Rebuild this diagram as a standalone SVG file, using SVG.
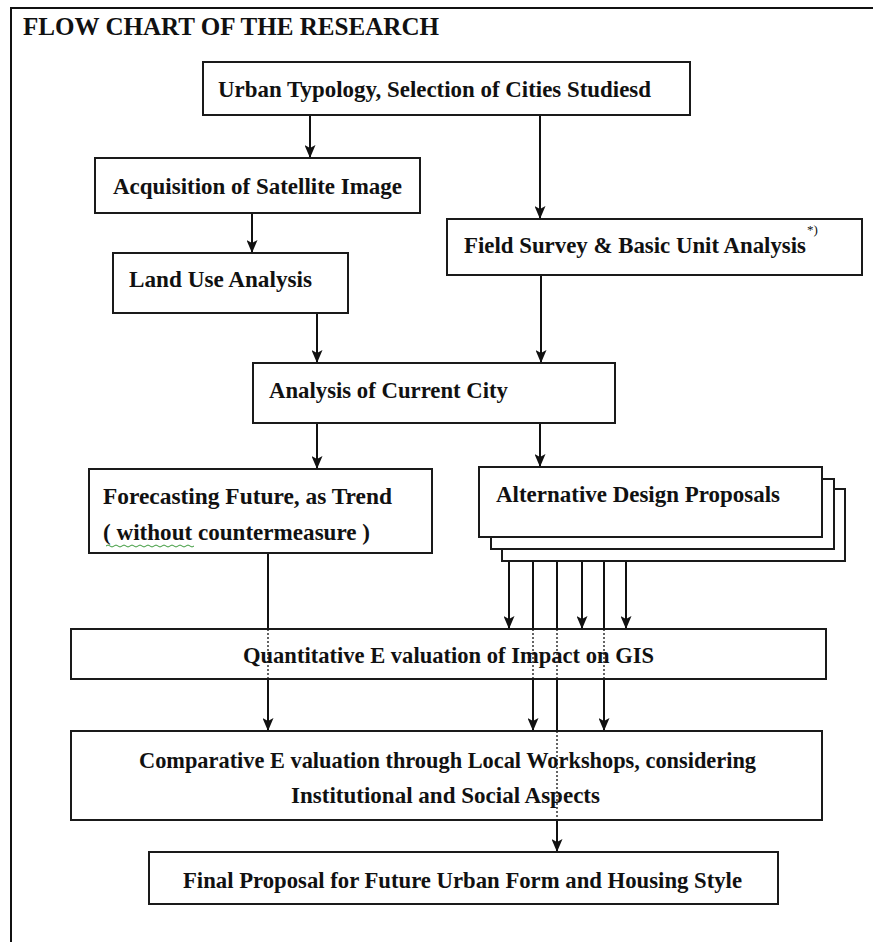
<svg xmlns="http://www.w3.org/2000/svg" width="873" height="942" viewBox="0 0 873 942">
<defs>
<marker id="ah" markerUnits="userSpaceOnUse" viewBox="0 0 13 11" markerWidth="13" markerHeight="11" refX="13" refY="5.5" orient="auto">
<path d="M0,0 L13,5.5 L0,11 L3,5.5 z" fill="#111"/>
</marker>
<style>
.box{fill:#fff;stroke:#1a1a1a;stroke-width:2}
.t{font-family:"Liberation Serif","Times New Roman",serif;font-weight:bold;font-size:23px;fill:#111}
.s{stroke:#111;stroke-width:2;fill:none}
.d{stroke:#111;stroke-width:1.3;stroke-dasharray:2 2;fill:none}
</style>
</defs>
<rect width="873" height="942" fill="#fff"/>
<g id="frame">
<path d="M11,942 V8 H873" class="s"/>
<text x="23" y="35" class="t" style="font-size:25px" textLength="416" lengthAdjust="spacingAndGlyphs">FLOW CHART OF THE RESEARCH</text>
</g>
<g id="connectors">
<path class="s" d="M310,115 V158" marker-end="url(#ah)"/>
<path class="s" d="M540,115 V219" marker-end="url(#ah)"/>
<path class="s" d="M252,213 V253" marker-end="url(#ah)"/>
<path class="s" d="M317,313 V363" marker-end="url(#ah)"/>
<path class="s" d="M541,275 V363" marker-end="url(#ah)"/>
<path class="s" d="M317,423 V469" marker-end="url(#ah)"/>
<path class="s" d="M540,423 V467" marker-end="url(#ah)"/>
<path class="s" d="M509,537 V629" marker-end="url(#ah)"/>
<path class="s" d="M582,537 V629" marker-end="url(#ah)"/>
<path class="s" d="M626,561 V629" marker-end="url(#ah)"/>
<path class="s" d="M533,561 V629"/>
<path class="s" d="M557,561 V629"/>
<path class="s" d="M604,561 V629"/>
<path class="s" d="M268,553 V629"/>
<path class="s" d="M268,679 V731" marker-end="url(#ah)"/>
<path class="s" d="M533,679 V731" marker-end="url(#ah)"/>
<path class="s" d="M557,679 V731"/>
<path class="s" d="M604,679 V731" marker-end="url(#ah)"/>
<path class="s" d="M557,820 V852" marker-end="url(#ah)"/>
</g>
<g id="n1"><rect class="box" x="203" y="62" width="487" height="53"/><text class="t" x="218" y="97" textLength="433" lengthAdjust="spacingAndGlyphs">Urban Typology, Selection of Cities Studiesd</text></g>
<g id="n2"><rect class="box" x="95" y="158" width="325" height="55"/><text class="t" x="113" y="194" textLength="289" lengthAdjust="spacingAndGlyphs">Acquisition of Satellite Image</text></g>
<g id="n3"><rect class="box" x="113" y="253" width="235" height="60"/><text class="t" x="129" y="287" textLength="183" lengthAdjust="spacingAndGlyphs">Land Use Analysis</text></g>
<g id="n4"><rect class="box" x="447" y="219" width="415" height="56"/><text class="t" x="464" y="253" textLength="342" lengthAdjust="spacingAndGlyphs">Field Survey &amp; Basic Unit Analysis</text><text x="807" y="234" style="font-family:'Liberation Serif',serif;font-size:13px;fill:#111">*)</text></g>
<g id="n5"><rect class="box" x="253" y="363" width="362" height="60"/><text class="t" x="269" y="398" textLength="239" lengthAdjust="spacingAndGlyphs">Analysis of Current City</text></g>
<g id="n6"><rect class="box" x="89" y="469" width="343" height="84"/><text class="t" x="103" y="504" textLength="289" lengthAdjust="spacingAndGlyphs">Forecasting Future, as Trend</text><text class="t" x="103" y="540" textLength="267" lengthAdjust="spacingAndGlyphs">( without countermeasure )</text><path d="M106,546 q2,-2 4,0 t4,0 t4,0 t4,0 t4,0 t4,0 t4,0 t4,0 t4,0 t4,0 t4,0 t4,0 t4,0 t4,0 t4,0 t4,0 t4,0 t4,0 t4,0 t4,0 t4,0 t4,0" fill="none" stroke="#3c9a3c" stroke-width="1"/></g>
<g id="n7"><rect class="box" x="502" y="489" width="343" height="72"/><rect class="box" x="491" y="479" width="343" height="70"/><rect class="box" x="479" y="467" width="343" height="70"/><text class="t" x="496" y="502" textLength="284" lengthAdjust="spacingAndGlyphs">Alternative Design Proposals</text></g>
<g id="n8"><rect class="box" x="71" y="629" width="755" height="50"/><text class="t" x="243" y="663" textLength="411" lengthAdjust="spacingAndGlyphs">Quantitative E valuation of Impact on GIS</text></g>
<g id="n9"><rect class="box" x="71" y="731" width="751" height="89"/><text class="t" x="139" y="768" textLength="617" lengthAdjust="spacingAndGlyphs">Comparative E valuation through Local Workshops, considering</text><text class="t" x="291" y="803" textLength="309" lengthAdjust="spacingAndGlyphs">Institutional and Social Aspects</text></g>
<g id="n10"><rect class="box" x="149" y="852" width="629" height="52"/><text class="t" x="183" y="888" textLength="559" lengthAdjust="spacingAndGlyphs">Final Proposal for Future Urban Form and Housing Style</text></g>
<g id="dotted">
<path class="d" d="M268,629 V679"/>
<path class="d" d="M533,629 V679"/>
<path class="d" d="M557,629 V679"/>
<path class="d" d="M604,629 V679"/>
<path class="d" d="M557,731 V820"/>
</g>
</svg>
